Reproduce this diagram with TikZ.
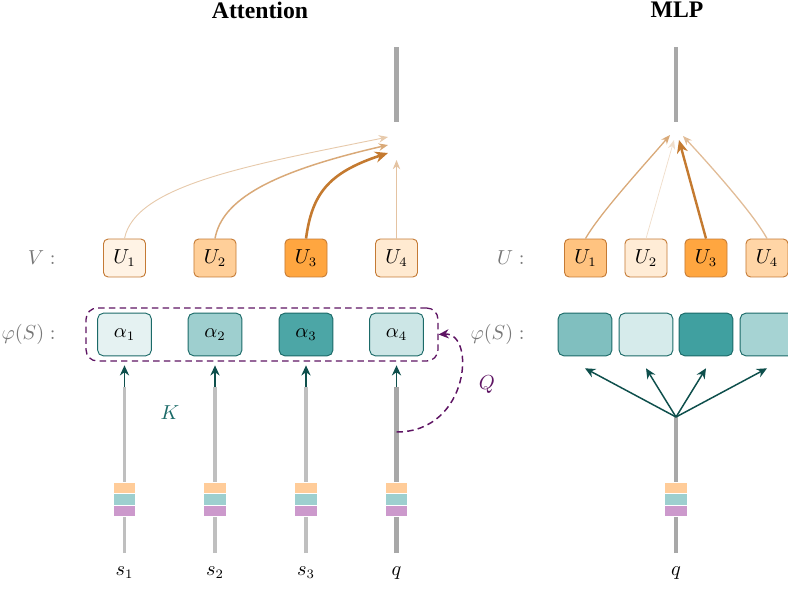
\documentclass[tikz,border=0pt]{standalone}
\usepackage{amsmath}
\usepackage{fontspec}
\usepackage{xcolor}
\usetikzlibrary{arrows.meta, positioning}
\newfontfamily\titlefont{Liberation Serif}

\definecolor{valorange}{HTML}{FF8800}
\definecolor{valborder}{HTML}{C47A35}
\definecolor{keyteal}{HTML}{008080}
\definecolor{keyborder}{HTML}{1B6A68}
\definecolor{arrteal}{HTML}{0E4F4C}
\definecolor{arrorange}{HTML}{C47A30}
\definecolor{qpurple}{HTML}{5E1463}
\definecolor{labgray}{HTML}{777777}
\definecolor{embo}{HTML}{FFCC99}
\definecolor{embt}{HTML}{9DCFCF}
\definecolor{embp}{HTML}{CC99CC}

\tikzstyle{paneltitle} = [font=\titlefont\fontsize{12.8}{15}\selectfont\bfseries]
\tikzstyle{ubox} = [rectangle, rounded corners=2.5pt, minimum width=22.7pt, minimum height=20.5pt, inner sep=0pt, draw=valborder, line width=0.5pt]
\tikzstyle{abox} = [rectangle, rounded corners=3pt, minimum width=29pt, minimum height=23pt, inner sep=0pt, draw=keyborder, line width=0.5pt]
\tikzstyle{keyframe} = [rectangle, rounded corners=6pt, minimum width=190pt, minimum height=28.6pt, draw=qpurple, line width=0.7pt, dash pattern=on 3.5pt off 2.3pt]
\tikzstyle{rowlabel} = [anchor=east, text=labgray]
\tikzstyle{stream} = [line width=1.7pt, draw=black!25]
\tikzstyle{qstream} = [line width=2.2pt, draw=black!34]
\tikzstyle{embbar} = [rectangle, minimum width=12.4pt, minimum height=6.2pt, inner sep=0pt, draw=white, line width=0.6pt]
\tikzstyle{keyarrow} = [line width=0.8pt, arrteal, -{Stealth[length=5.5pt, width=5pt]}]
\tikzstyle{qarrow} = [line width=0.8pt, qpurple, dash pattern=on 3.5pt off 2.3pt, -{Stealth[length=5.5pt, width=5pt]}]
\tikzstyle{valarrow} = [-{Stealth[length=5pt, width=4pt]}]
\tikzstyle{bigvalarrow} = [line width=1.4pt, arrorange, -{Stealth[length=7pt, width=6pt]}]

\begin{document}
\begin{tikzpicture}[x=0.54pt, y=-0.54pt, every node/.style={font=\fontsize{10.7}{13}\selectfont}]
		\useasboundingbox (0,0) rectangle (788,588);
		\clip (0,0) rectangle (788,588);

		% titles
		\node (atttitle) [paneltitle] at (260,10) {Attention};
		\node (mlptitle) [paneltitle] at (677,10) {MLP};

		% attention panel
		\node (vlabel) [rowlabel] at (62,258) {$V:$};
		\node (v1) [ubox, fill=valorange!10] at (124.5,258) {$U_1$};
		\node (v2) [ubox, fill=valorange!40] at (215,258) {$U_2$};
		\node (v3) [ubox, fill=valorange!75] at (306,258) {$U_3$};
		\node (v4) [ubox, fill=valorange!18] at (396.5,258) {$U_4$};

		\node (klabel) [rowlabel] at (62,334.5) {$\varphi(S):$};
		\node (keys) [keyframe] at (262,334.5) {};
		\node (a1) [abox, fill=keyteal!10] at (124.5,334.5) {$\alpha_1$};
		\node (a2) [abox, fill=keyteal!38] at (215,334.5) {$\alpha_2$};
		\node (a3) [abox, fill=keyteal!70] at (306,334.5) {$\alpha_3$};
		\node (a4) [abox, fill=keyteal!20] at (396.5,334.5) {$\alpha_4$};

		\coordinate (attouttop) at (396.5,47);
		\coordinate (attoutbot) at (396.5,122);
		\coordinate (t1) at (388,137);
		\coordinate (t2) at (388,145);
		\coordinate (t3) at (388,153);
		\coordinate (t4) at (396.5,160);

		\coordinate (s1top) at (124.5,387);
		\coordinate (s1bot) at (124.5,553);
		\coordinate (s2top) at (215,387);
		\coordinate (s2bot) at (215,553);
		\coordinate (s3top) at (306,387);
		\coordinate (s3bot) at (306,553);
		\coordinate (qtop) at (396.5,387);
		\coordinate (qbot) at (396.5,553);
		\coordinate (qkey) at (396.5,432);

		\node (s1) at (124.5,573) {$s_1$};
		\node (s2) at (215,573) {$s_2$};
		\node (s3) at (306,573) {$s_3$};
		\node (q) at (396.5,573) {$q$};
		\node (klbl) [text=keyborder] at (170,413) {$K$};
		\node (qlbl) [text=qpurple] at (487,385) {$Q$};

		\draw [qstream] (attouttop) -- (attoutbot);
		\draw [stream] (s1bot) -- (s1top);
		\draw [stream] (s2bot) -- (s2top);
		\draw [stream] (s3bot) -- (s3top);
		\draw [qstream] (qbot) -- (qtop);

		\draw [valarrow, line width=0.5pt, arrorange!40] (v1.north) .. controls (135,185) and (250,165) .. (t1);
		\draw [valarrow, line width=0.8pt, arrorange!65] (v2.north) .. controls (222,200) and (270,172) .. (t2);
		\draw [bigvalarrow] (v3.north) .. controls (312,195) and (327,173) .. (t3);
		\draw [valarrow, line width=0.5pt, arrorange!45] (v4.north) -- (t4);

		\draw [keyarrow] (s1top) -- ([yshift=-4.9pt]a1.south);
		\draw [keyarrow] (s2top) -- ([yshift=-4.9pt]a2.south);
		\draw [keyarrow] (s3top) -- ([yshift=-4.9pt]a3.south);
		\draw [keyarrow] (qtop) -- ([yshift=-4.9pt]a4.south);
		\draw [qarrow] (qkey) .. controls (470,432) and (476,332) .. (keys.east);

		% mlp panel
		\node (ulabel) [rowlabel] at (531,258) {$U:$};
		\node (u1) [ubox, fill=valorange!50] at (585.5,258) {$U_1$};
		\node (u2) [ubox, fill=valorange!16] at (646,258) {$U_2$};
		\node (u3) [ubox, fill=valorange!75] at (706,258) {$U_3$};
		\node (u4) [ubox, fill=valorange!35] at (767,258) {$U_4$};

		\node (plabel) [rowlabel] at (531,334.5) {$\varphi(S):$};
		\node (p1) [abox, fill=keyteal!50] at (585,334.5) {};
		\node (p2) [abox, fill=keyteal!16] at (646,334.5) {};
		\node (p3) [abox, fill=keyteal!75] at (706,334.5) {};
		\node (p4) [abox, fill=keyteal!35] at (767,334.5) {};

		\coordinate (mlpouttop) at (676,47);
		\coordinate (mlpoutbot) at (676,122);
		\coordinate (m1) at (670,135);
		\coordinate (m2) at (674,140);
		\coordinate (m3) at (679,140);
		\coordinate (m4) at (683,136);
		\coordinate (mqtop) at (676,417);
		\coordinate (mqbot) at (676,553);
		\node (mq) at (676,573) {$q$};

		\draw [qstream] (mlpouttop) -- (mlpoutbot);
		\draw [qstream] (mqbot) -- (mqtop);

		\draw [valarrow, line width=0.7pt, arrorange!65] (u1.north) .. controls (600,213) and (646,163) .. (m1);
		\draw [valarrow, line width=0.4pt, arrorange!25] (u2.north) -- (m2);
		\draw [bigvalarrow, line width=1.3pt] (u3.north) -- (m3);
		\draw [valarrow, line width=0.7pt, arrorange!50] (u4.north) .. controls (753,213) and (708,163) .. (m4);

		\draw [keyarrow] (mqtop) -- ([yshift=-6.5pt]p1.south);
		\draw [keyarrow] (mqtop) -- ([yshift=-6.5pt]p2.south);
		\draw [keyarrow] (mqtop) -- ([yshift=-6.5pt]p3.south);
		\draw [keyarrow] (mqtop) -- ([yshift=-6.5pt]p4.south);

		% embedding bars
		\foreach \col/\nm in {124.5/s1, 215/s2, 306/s3, 396.5/q, 676/mq} {
			\node (\nm o) [embbar, fill=embo] at (\col,488) {};
			\node (\nm t) [embbar, fill=embt] at (\col,499.5) {};
			\node (\nm p) [embbar, fill=embp] at (\col,511) {};
		}
	\end{tikzpicture}
\end{document}
